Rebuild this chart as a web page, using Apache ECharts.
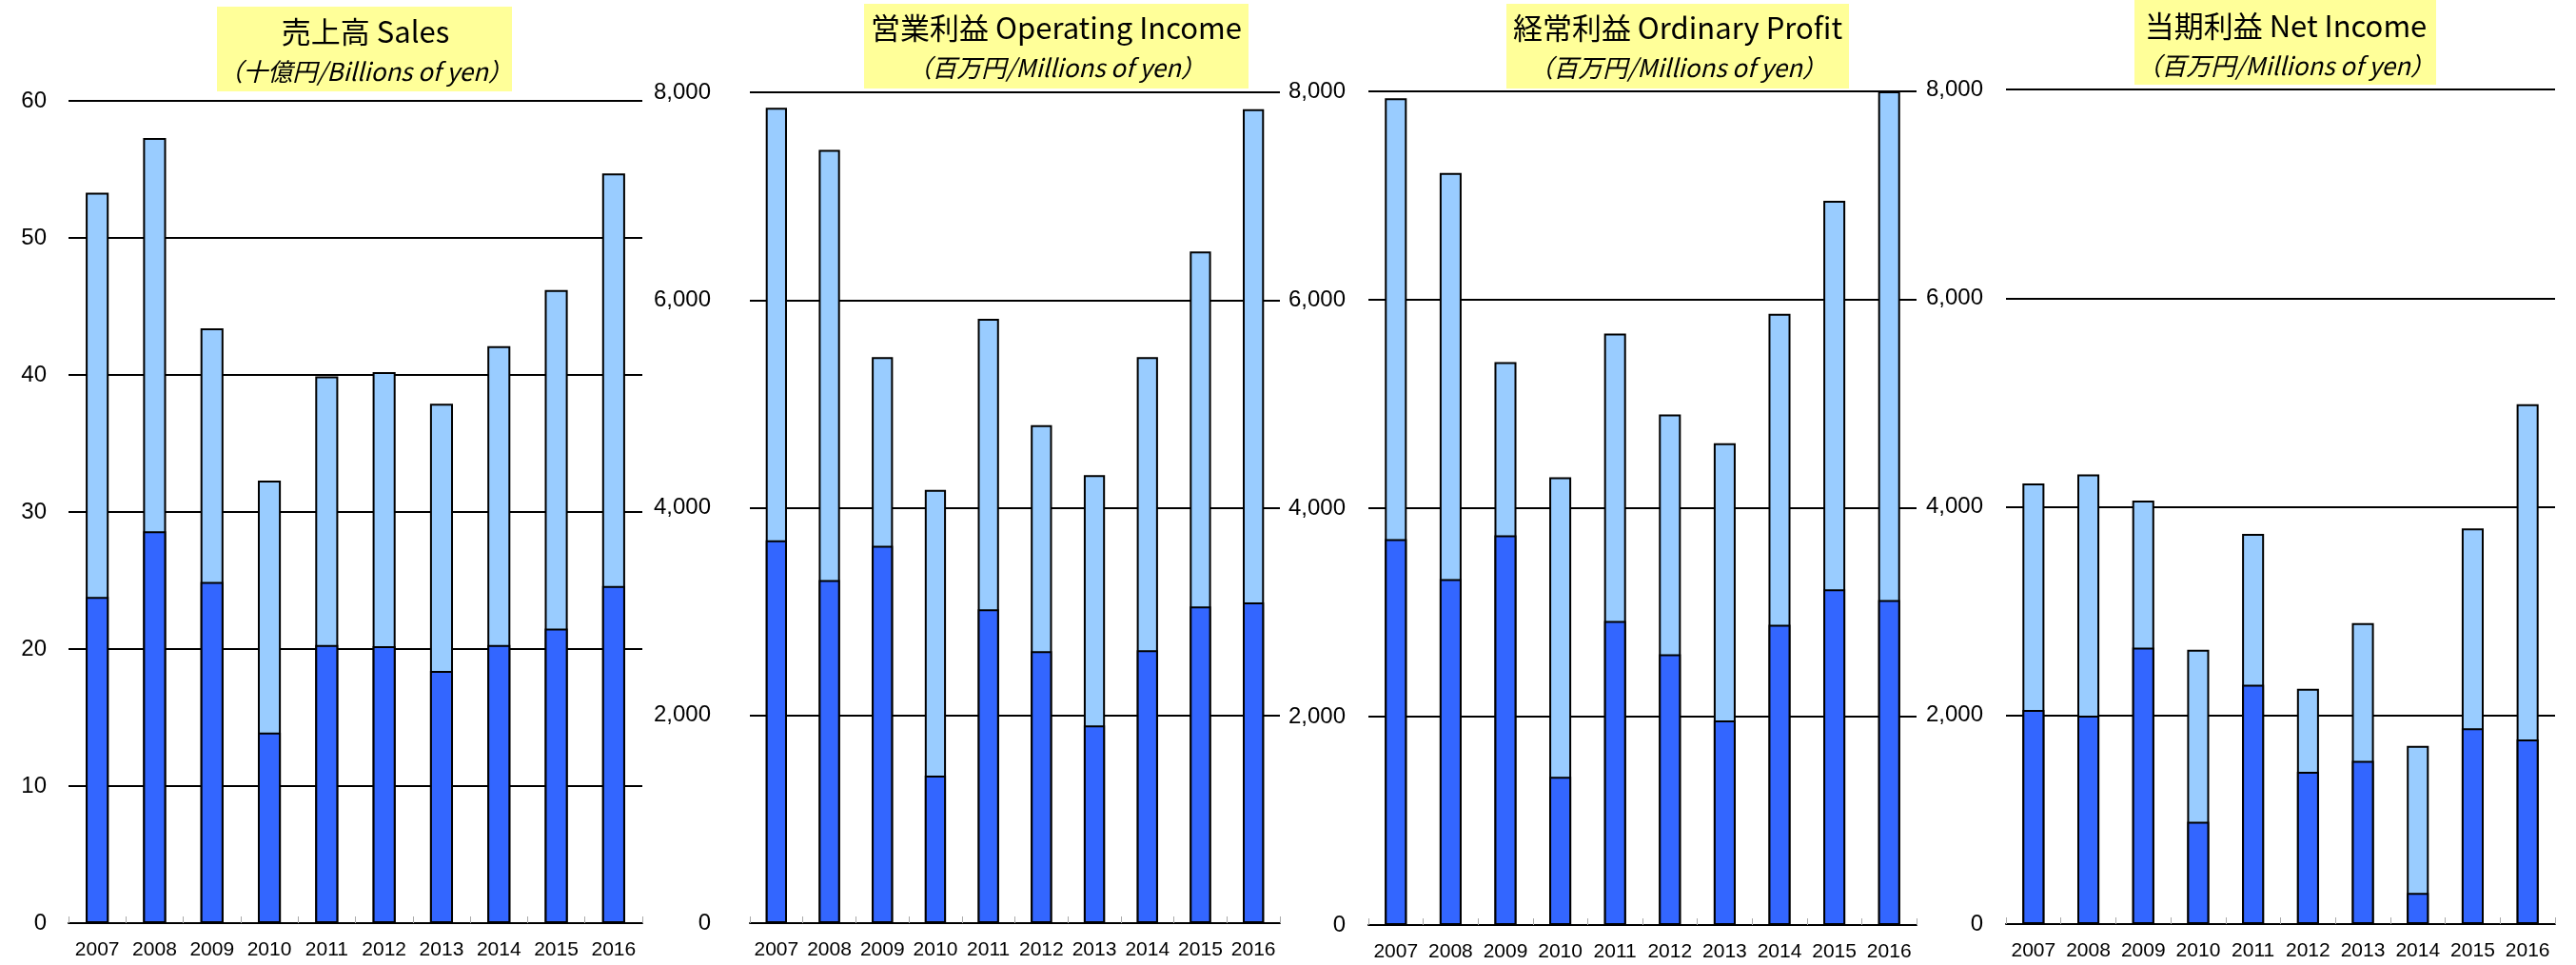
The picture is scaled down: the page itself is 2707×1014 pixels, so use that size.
<!DOCTYPE html>
<html>
<head>
<meta charset="utf-8">
<script src="https://cdn.jsdelivr.net/npm/echarts@6/dist/echarts.min.js"></script>
<style>
html,body{margin:0;padding:0;background:#fff;}
#chart{width:2707px;height:1014px;}
</style>
</head>
<body>
<div id="chart"></div>
<script>
// ---- data ----
const years = ['2007','2008','2009','2010','2011','2012','2013','2014','2015','2016'];

// Sales (billions of yen): full year and first half
const salesFull = [53.3, 57.3, 43.4, 32.3, 39.9, 40.2, 37.9, 42.1, 46.2, 54.7];
const salesH1   = [23.8, 28.6, 24.9, 13.9, 20.3, 20.2, 18.4, 20.3, 21.5, 24.6];

// Operating income (millions of yen)
const opFull = [7852, 7446, 5450, 4171, 5819, 4795, 4315, 5450, 6468, 7837];
const opH1   = [3685, 3303, 3633, 1420, 3021, 2619, 1904, 2628, 3049, 3089];

// Ordinary profit (millions of yen)
const ordFull = [7933, 7217, 5402, 4297, 5676, 4900, 4623, 5865, 6950, 8000];
const ordH1   = [3703, 3320, 3740, 1422, 2918, 2598, 1964, 2881, 3222, 3119];

// Net income (millions of yen)
const netFull = [4224, 4310, 4060, 2629, 3741, 2256, 2885, 1709, 3793, 4983];
const netH1   = [2052, 1997, 2650,  981, 2295, 1460, 1564,  298, 1876, 1770];

const titles = ['売上高 Sales', '営業利益 Operating Income', '経常利益 Ordinary Profit', '当期利益 Net Income'];
const subtitles = ['（十億円/Billions of yen）', '（百万円/Millions of yen）', '（百万円/Millions of yen）', '（百万円/Millions of yen）'];

const axisMax = [60, 8000, 8000, 8000];
const axisInterval = [10, 2000, 2000, 2000];

// ---- layout ----
const grids = [
  {left: 72,   top: 106, width: 603, height: 864},
  {left: 788,  top: 97,  width: 557, height: 873},
  {left: 1438, top: 96,  width: 576, height: 876},
  {left: 2108, top: 94,  width: 577, height: 877}
];
const labelMargins = [23, 41, 24, 24];
const boxes = [
  {x: 228,  y: 7, w: 310, h: 89, cx: 384,  ty: 33, sy: 75},
  {x: 908,  y: 4, w: 404, h: 89, cx: 1110, ty: 29, sy: 71},
  {x: 1583, y: 4, w: 360, h: 89, cx: 1763, ty: 29, sy: 71},
  {x: 2243, y: 0, w: 317, h: 89, cx: 2402, ty: 27, sy: 69}
];

const FULL_COLOR = '#99CCFF';
const H1_COLOR = '#3366FF';
const numFont = '"Liberation Sans", Arial, sans-serif';
const cjkFont = '"Noto Sans CJK JP", sans-serif';

const fullData = [salesFull, opFull, ordFull, netFull];
const h1Data = [salesH1, opH1, ordH1, netH1];

const option = {
  animation: false,
  backgroundColor: '#ffffff',
  grid: grids.map(g => Object.assign({containLabel: false}, g)),
  xAxis: grids.map((g, i) => ({
    type: 'category',
    gridIndex: i,
    data: years,
    axisLine: {show: true, lineStyle: {color: '#000', width: 2}},
    axisTick: {show: true, inside: true, length: 7, alignWithLabel: false, lineStyle: {color: '#aaa', width: 1}},
    axisLabel: {color: '#000', fontSize: 21, fontFamily: numFont, margin: 18, interval: 0},
    splitLine: {show: false}
  })),
  yAxis: grids.map((g, i) => ({
    type: 'value',
    gridIndex: i,
    min: 0,
    max: axisMax[i],
    interval: axisInterval[i],
    axisLine: {show: false},
    axisTick: {show: false},
    axisLabel: {
      color: '#000', fontSize: 24, fontFamily: numFont, margin: labelMargins[i],
      formatter: v => v.toLocaleString('en-US')
    },
    splitLine: {show: true, lineStyle: {color: '#000', width: 2}}
  })),
  series: [],
  graphic: []
};

for (let i = 0; i < 4; i++) {
  option.series.push({
    type: 'bar',
    name: 'full' + i,
    xAxisIndex: i, yAxisIndex: i,
    data: fullData[i],
    barWidth: '40%',
    barGap: '-100%',
    itemStyle: {color: FULL_COLOR, borderColor: '#000', borderWidth: 2}
  });
  option.series.push({
    type: 'bar',
    name: 'h1' + i,
    xAxisIndex: i, yAxisIndex: i,
    data: h1Data[i],
    barWidth: '40%',
    barGap: '-100%',
    itemStyle: {color: H1_COLOR, borderColor: '#000', borderWidth: 2}
  });
  const b = boxes[i];
  option.graphic.push({
    type: 'rect', z: 10,
    shape: {x: b.x, y: b.y, width: b.w, height: b.h},
    style: {fill: '#FFFF99'}
  });
  option.graphic.push({
    type: 'text', z: 11,
    x: b.cx, y: b.ty,
    style: {text: titles[i], font: '31px ' + cjkFont, fill: '#000', textAlign: 'center', textVerticalAlign: 'middle'}
  });
  option.graphic.push({
    type: 'text', z: 11,
    x: b.cx, y: b.sy,
    style: {text: subtitles[i], font: 'italic 26px ' + cjkFont, fill: '#000', textAlign: 'center', textVerticalAlign: 'middle'}
  });
}

const chart = echarts.init(document.getElementById('chart'), null, {renderer: 'canvas'});
chart.setOption(option);
</script>
</body>
</html>
